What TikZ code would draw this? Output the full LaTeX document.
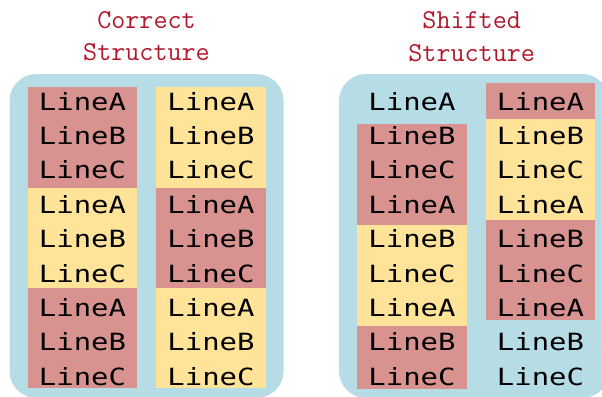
\documentclass[tikz,border=0pt]{standalone}
\usepackage{fontspec}
\newfontfamily\linefont[FakeStretch=1.22]{DejaVu Sans Mono}
\definecolor{panelblue}{HTML}{B6DCE6}
\definecolor{blockred}{HTML}{D8928F}
\definecolor{blockyellow}{HTML}{FFE399}
\definecolor{titlered}{HTML}{B2182B}
\begin{document}
\begin{tikzpicture}[x=1bp,y=-1bp,
  panel/.style={fill=panelblue, rounded corners=27bp},
  redblock/.style={fill=blockred},
  yellowblock/.style={fill=blockyellow},
  codeline/.style={anchor=base, inner sep=0pt,
    font=\linefont\fontsize{23.7bp}{24bp}\selectfont},
  heading/.style={anchor=base, inner sep=0pt, text=titlered,
    font=\ttfamily\fontsize{27.3bp}{28bp}\selectfont}]
  \useasboundingbox (0,0) rectangle (602,396);

  % headings
  \node[heading] (t1a) at (146.5,28.3) {Correct};
  \node[heading] (t1b) at (146.5,60.5) {Structure};
  \node[heading] (t2a) at (471.7,28.3) {Shifted};
  \node[heading] (t2b) at (471.7,61) {Structure};

  % panels
  \fill[panel] (9.5,74) rectangle (283.5,398);
  \fill[panel] (339,74) rectangle (609,398);

  % correct structure: aligned blocks of three lines
  \fill[redblock]    (28,87)   rectangle (137,188);
  \fill[yellowblock] (28,188)  rectangle (137,288);
  \fill[redblock]    (28,288)  rectangle (137,388);
  \fill[yellowblock] (156,87)  rectangle (266,188);
  \fill[redblock]    (156,188) rectangle (266,288);
  \fill[yellowblock] (156,288) rectangle (266,388);

  % shifted structure: blocks offset by one line
  \fill[redblock]    (357,124)   rectangle (467,224.5);
  \fill[yellowblock] (357,224.5) rectangle (467,325.5);
  \fill[redblock]    (357,325.5) rectangle (467,388.5);
  \fill[redblock]    (486,83)    rectangle (595,119.3);
  \fill[yellowblock] (486,119.3) rectangle (595,220);
  \fill[redblock]    (486,220)   rectangle (595,320);

  % line labels in every column
  \foreach \col/\cx in {a/82.5,b/211,c/412,d/540.5}{
    \foreach \k/\c in {0/A,1/B,2/C,3/A,4/B,5/C,6/A,7/B,8/C}{
      \node[codeline] (\col\k) at (\cx,110+34.4*\k) {Line\c};
    }
  }
\end{tikzpicture}
\end{document}
